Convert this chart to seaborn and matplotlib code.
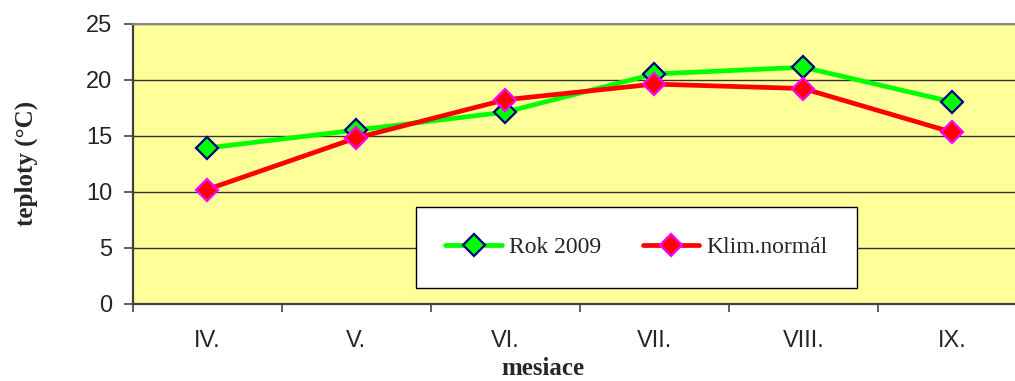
import numpy as np
import pandas as pd
import matplotlib
matplotlib.use("Agg")
import matplotlib.pyplot as plt
import seaborn as sns

sns.set_style("white")

## Data
mesiace = ["IV.", "V.", "VI.", "VII.", "VIII.", "IX."]
rok_2009 = [13.9, 15.5, 17.1, 20.5, 21.1, 18.0]
klim_normal = [10.2, 14.8, 18.2, 19.6, 19.2, 15.3]

df = pd.DataFrame({
    "pos": list(range(len(mesiace))) * 2,
    "teplota": rok_2009 + klim_normal,
    "rada": ["Rok 2009"] * len(mesiace) + ["Klim.normál"] * len(mesiace),
})

## Figure - plot area runs past the right edge like in the original
W, H = 1015, 381
fig = plt.figure(figsize=(W / 100, H / 100), dpi=100)
ax = fig.add_axes([132.5 / W, 1 - 304 / H, 894.5 / W, 280.5 / H])
ax.set_facecolor("#FFFF99")

styles = {
    "Rok 2009": dict(color="#00FF00", mfc="#00FF00", mec="#000080"),
    "Klim.normál": dict(color="#FF0000", mfc="#FF0000", mec="#FF00FF"),
}
for name, st in styles.items():
    sub = df[df["rada"] == name]
    sns.lineplot(data=sub, x="pos", y="teplota", ax=ax, color=st["color"],
                 linewidth=3.4, marker="D", markersize=11,
                 markerfacecolor=st["mfc"], markeredgecolor=st["mec"],
                 markeredgewidth=1.6, label=name, zorder=3)

## Axes
ax.set_ylim(0, 25)
ax.set_xlim(-0.5, len(mesiace) - 0.5)
ax.set_yticks(np.arange(0, 26, 5))
ax.yaxis.grid(True, color="#333333", linewidth=1.0)
ax.set_axisbelow(True)

ax.set_xticks(np.arange(-0.5, len(mesiace), 1.0))
ax.set_xticklabels([])
ax.set_xticks(range(len(mesiace)), minor=True)
ax.set_xticklabels(mesiace, minor=True, fontsize=17, fontfamily="Liberation Sans")
ax.tick_params(axis="x", which="major", length=6, width=1.2, color="#444444", direction="out", bottom=True)
ax.tick_params(axis="x", which="minor", length=0, pad=19)
ax.tick_params(axis="y", length=6.5, width=1.2, color="#444444", direction="out", left=True,
               labelsize=17, pad=8)
for lab in ax.get_yticklabels():
    lab.set_fontfamily("Liberation Sans")

ax.spines["right"].set_visible(False)
ax.spines["top"].set_color("#888888")
ax.spines["top"].set_linewidth(1.5)
for side in ["left", "bottom"]:
    ax.spines[side].set_color("#404040")
    ax.spines[side].set_linewidth(1.6)

ax.set_xlabel("mesiace", fontsize=18, fontweight="bold", fontfamily="Liberation Serif")
ax.xaxis.set_label_coords(0.459, -0.188)
ax.set_ylabel("teploty (°C)", fontsize=18, fontweight="bold", fontfamily="Liberation Serif")
ax.yaxis.set_label_coords(-0.106, 0.5)

leg = ax.legend(loc="center", bbox_to_anchor=(0.5634, 0.2014), ncol=2, frameon=True,
                fancybox=False, borderaxespad=0, prop={"family": "Liberation Serif", "size": 17},
                handlelength=2.4, handletextpad=0.3, borderpad=1.25, columnspacing=1.75)
leg.get_frame().set_edgecolor("#000000")
leg.get_frame().set_linewidth(1.0)
leg.get_frame().set_facecolor("white")
leg.get_frame().set_alpha(1)

fig.savefig("out.png", dpi=100, facecolor="white")
